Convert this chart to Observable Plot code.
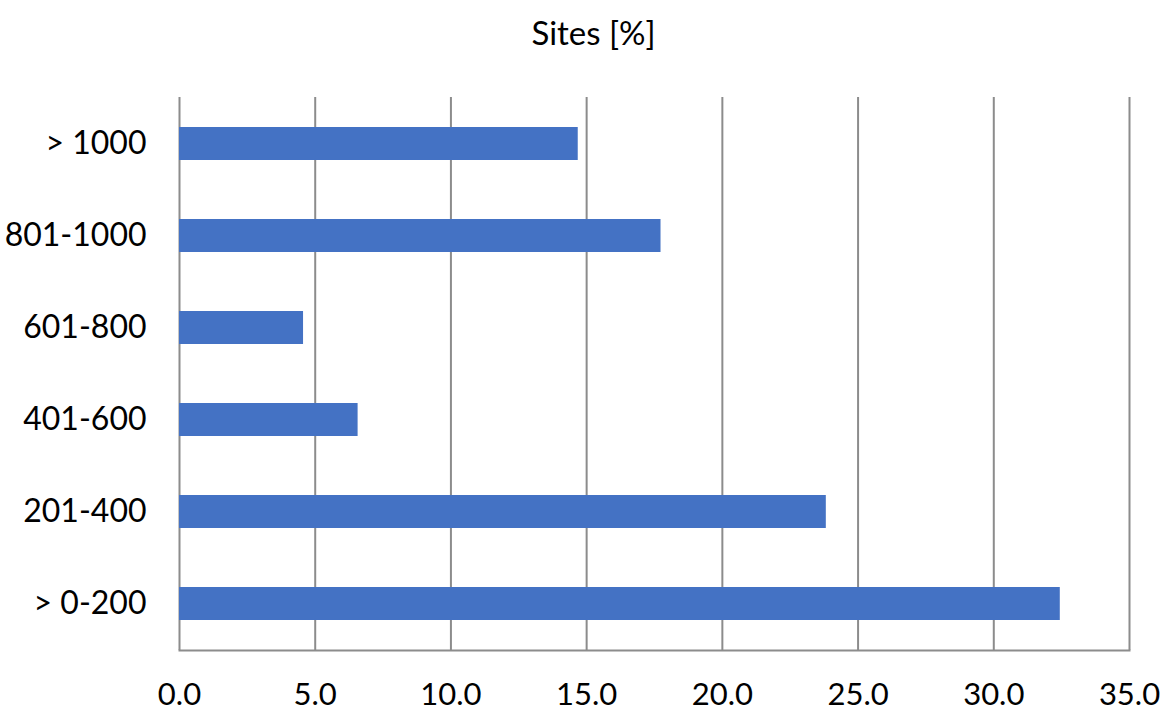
<!DOCTYPE html>
<html>
<head>
<meta charset="utf-8">
<script src="https://cdn.jsdelivr.net/npm/d3@7"></script>
<script src="https://cdn.jsdelivr.net/npm/@observablehq/plot@0.6"></script>
<style>
  html, body { margin: 0; padding: 0; background: #fff; }
  #chart svg { display: block; }
</style>
</head>
<body>
<div id="chart"></div>
<script>
const categories = ["> 1000", "801-1000", "601-800", "401-600", "201-400", "> 0-200"];
const values = [14.69, 17.74, 4.57, 6.58, 23.83, 32.45];
const xTicks = [0, 5, 10, 15, 20, 25, 30, 35];
const title = "Sites [%]";

const data = categories.map((c, i) => ({category: c, value: values[i]}));

const chart = Plot.plot({
  width: 1162,
  height: 713,
  marginTop: 97,
  marginBottom: 63,
  marginLeft: 179,
  marginRight: 33,
  style: {fontFamily: "Lato, sans-serif", fontSize: "32px", color: "#000", background: "#fff"},
  x: {domain: [0, 35], ticks: xTicks, tickFormat: d => d.toFixed(1), label: null},
  y: {domain: categories, paddingInner: 0.645, paddingOuter: 0.3225, label: null},
  marks: [
    Plot.gridX(xTicks, {stroke: "#8c8c8c", strokeOpacity: 1, strokeWidth: 2}),
    Plot.frame({anchor: "bottom", stroke: "#8c8c8c", strokeWidth: 2}),
    Plot.barX(data, {x: "value", y: "category", fill: "#4472C4"}),
    Plot.axisX(xTicks, {tickSize: 0, tickPadding: 32, tickFormat: d => d.toFixed(1), label: null, fontSize: 31}),
    Plot.axisY({tickSize: 0, tickPadding: 33, label: null, fontSize: 32}),
    Plot.text([title], {frameAnchor: "top", dx: -61, dy: -76, fontSize: 33, fill: "#000"})
  ]
});
document.getElementById("chart").appendChild(chart);
</script>
</body>
</html>
